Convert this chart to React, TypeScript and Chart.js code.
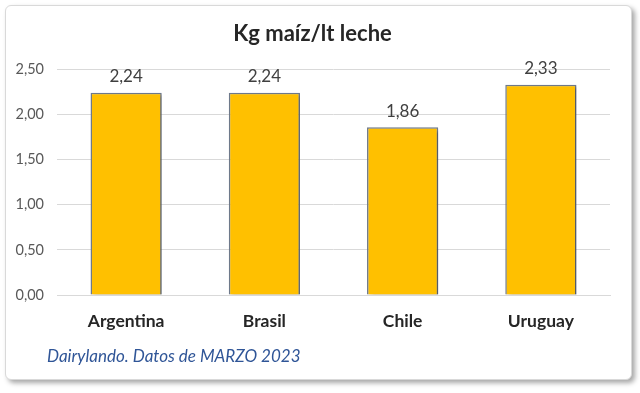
import React, { useEffect, useRef } from "react";
import { Chart, registerables } from "chart.js";

Chart.register(...registerables);

const titleText = "Kg maíz/lt leche";
const categories = ["Argentina", "Brasil", "Chile", "Uruguay"];
const values = [2.24, 2.24, 1.86, 2.33];
const yTicks = [0, 0.5, 1, 1.5, 2, 2.5];
const footnote = "Dairylando. Datos de MARZO 2023";

const FONT = "Lato, 'Open Sans', sans-serif";
const fmt = (v: number) => v.toFixed(2).replace(".", ",");

const barLabels = {
  id: "barLabels",
  afterDatasetsDraw(chart: any) {
    const ctx = chart.ctx;
    const meta = chart.getDatasetMeta(0);
    ctx.save();
    ctx.font = `17px ${FONT}`;
    ctx.fillStyle = "#404040";
    ctx.textAlign = "center";
    ctx.textBaseline = "middle";
    meta.data.forEach((bar: any, i: number) => {
      ctx.fillText(fmt(values[i]), bar.x, bar.y - 16);
    });
    ctx.restore();
  },
};

const barShadow = {
  id: "barShadow",
  beforeDatasetsDraw(chart: any) {
    const ctx = chart.ctx;
    ctx.save();
    ctx.shadowColor = "rgba(0,0,0,0.35)";
    ctx.shadowOffsetX = 2;
    ctx.shadowOffsetY = 2;
    ctx.shadowBlur = 3;
  },
  afterDatasetsDraw(chart: any) {
    chart.ctx.restore();
  },
};

export default function App() {
  const ref = useRef<HTMLCanvasElement>(null);
  useEffect(() => {
    if (!ref.current) return;
    const chart = new Chart(ref.current, {
      type: "bar",
      data: {
        labels: categories,
        datasets: [
          {
            data: values,
            backgroundColor: "#FFC000",
            borderColor: "#6F7A8C",
            borderWidth: 1.5,
            categoryPercentage: 1,
            barPercentage: 0.515,
          },
        ],
      },
      options: {
        animation: false,
        responsive: false,
        layout: { padding: { left: 9, right: 21, top: 0, bottom: 31 } },
        plugins: {
          legend: { display: false },
          tooltip: { enabled: false },
          title: {
            display: true,
            text: titleText,
            color: "#262626",
            font: { family: FONT, size: 22, weight: "bold" },
            padding: { top: 15, bottom: 22 },
          },
        },
        scales: {
          x: {
            grid: { display: false, drawTicks: false },
            border: { display: true, color: "#D9D9D9", width: 1 },
            ticks: {
              color: "#262626",
              font: { family: FONT, size: 17.5, weight: "bold" },
              padding: 16,
            },
          },
          y: {
            min: 0,
            max: 2.5,
            afterFit(scale: any) {
              scale.width = 42;
            },
            afterBuildTicks(scale: any) {
              scale.ticks = yTicks.map((v) => ({ value: v }));
            },
            grid: { color: "#D9D9D9", lineWidth: 1, drawTicks: false },
            border: { display: false },
            ticks: {
              color: "#595959",
              font: { family: FONT, size: 14.5 },
              padding: 13,
              callback: (v: any) => fmt(Number(v)),
            },
          },
        },
      },
      plugins: [barShadow, barLabels],
    } as any);
    return () => chart.destroy();
  }, []);

  return (
    <div style={{ position: "fixed", left: 0, top: 0, width: 640, height: 393, background: "#fff" }}>
      <div
        style={{
          position: "absolute",
          left: 5,
          top: 5,
          width: 625,
          height: 373,
          border: "1px solid #D9D9D9",
          borderRadius: 6,
          boxShadow: "3px 3px 5px rgba(0,0,0,0.35)",
          background: "#fff",
          overflow: "hidden",
        }}
      >
        <canvas ref={ref} width={625} height={373} style={{ display: "block" }} />
        <div
          style={{
            position: "absolute",
            left: 41,
            top: 339,
            fontFamily: FONT,
            fontStyle: "italic",
            fontSize: 17,
            color: "#2F5597",
            whiteSpace: "nowrap",
          }}
        >
          {footnote}
        </div>
      </div>
    </div>
  );
}
